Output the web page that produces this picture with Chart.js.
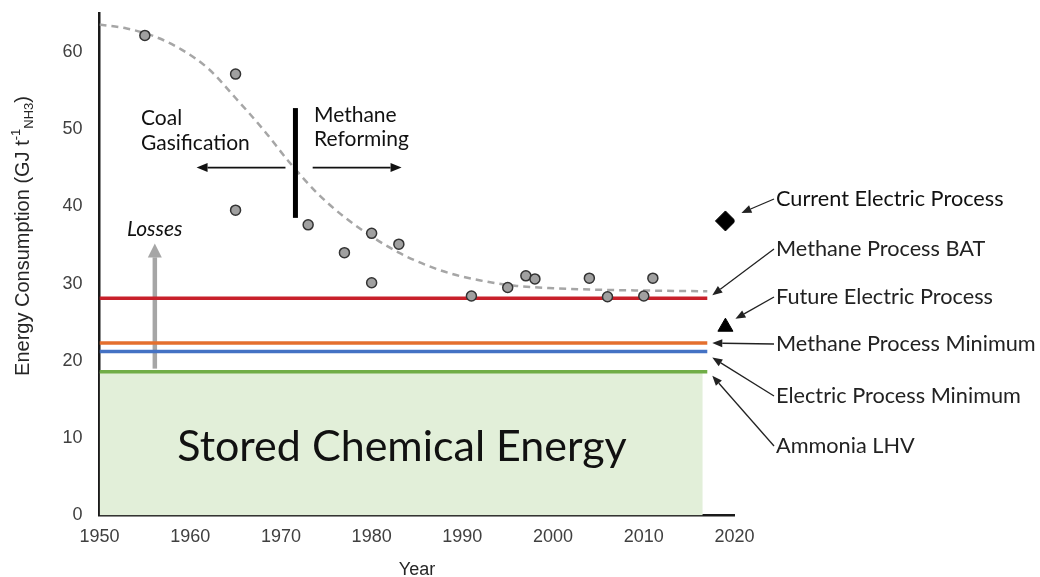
<!DOCTYPE html>
<html>
<head>
<meta charset="utf-8">
<script src="https://cdn.jsdelivr.net/npm/chart.js@4.4.1/dist/chart.umd.min.js"></script>
<style>
  html, body { margin: 0; padding: 0; background: #fff; }
  #wrap { width: 1040px; height: 577px; }
</style>
</head>
<body>
<div id="wrap"><canvas id="chart" width="1040" height="577"></canvas></div>
<script>
// plant data (year, GJ per t NH3)
const years = [1955, 1965, 1965, 1973, 1977, 1980, 1980, 1983, 1991, 1995, 1997, 1998, 2004, 2006, 2010, 2011];
const energy = [62.1, 57.1, 39.5, 37.6, 34.0, 36.5, 30.1, 35.1, 28.4, 29.5, 31.0, 30.6, 30.7, 28.3, 28.4, 30.7];

// dashed trend
const trendYears = [1950, 1953, 1956, 1959, 1962, 1965, 1968, 1971, 1974, 1977, 1980, 1983, 1986, 1989, 1992, 1996, 2000, 2005, 2010, 2017];
const trendValues = [63.5, 63.0, 62.0, 60.3, 57.8, 54.0, 50.0, 45.6, 41.7, 38.6, 36.1, 34.0, 32.4, 31.2, 30.4, 29.7, 29.4, 29.2, 29.1, 29.0];

// reference levels
const levelYears = [1950, 2017];
const fillYears = [1950, 2016.5];
const methaneBAT = 28.1;
const methaneMin = 22.3;
const electricMin = 21.2;
const ammoniaLHV = 18.6;

// single markers
const currentElectric = { x: 2019, y: 38.1 };
const futureElectric = { x: 2019, y: 24.4 };

const xTicks = [1950, 1960, 1970, 1980, 1990, 2000, 2010, 2020];
const yTicks = [0, 10, 20, 30, 40, 50, 60];

const rightLabels = ['Current Electric Process', 'Methane Process BAT', 'Future Electric Process',
    'Methane Process Minimum', 'Electric Process Minimum', 'Ammonia LHV'];

const level = (v, xs) => xs.map(x => ({ x: x, y: v }));

function arrow(ctx, x1, y1, x2, y2, len, half, color, lw) {
    const a = Math.atan2(y2 - y1, x2 - x1);
    const bx = x2 - Math.cos(a) * len, by = y2 - Math.sin(a) * len;
    ctx.strokeStyle = color;
    ctx.fillStyle = color;
    ctx.lineWidth = lw;
    ctx.beginPath();
    ctx.moveTo(x1, y1);
    ctx.lineTo(bx, by);
    ctx.stroke();
    ctx.beginPath();
    ctx.moveTo(x2, y2);
    ctx.lineTo(bx - Math.sin(a) * half, by + Math.cos(a) * half);
    ctx.lineTo(bx + Math.sin(a) * half, by - Math.cos(a) * half);
    ctx.closePath();
    ctx.fill();
}

const notes = {
    id: 'notes',
    beforeDatasetsDraw(chart) {
        const ctx = chart.ctx, xs = chart.scales.x, ys = chart.scales.y;
        ctx.save();
        // losses arrow sits under the level lines
        arrow(ctx, xs.getPixelForValue(1956.1), ys.getPixelForValue(19.0),
            xs.getPixelForValue(1956.1), ys.getPixelForValue(35.2), 14, 7, '#a6a6a6', 4.5);
        ctx.restore();
    },
    afterDatasetsDraw(chart) {
        const ctx = chart.ctx, xs = chart.scales.x, ys = chart.scales.y;
        const area = chart.chartArea;
        ctx.save();

        ctx.fillStyle = '#111';
        ctx.textBaseline = 'middle';
        ctx.textAlign = 'center';
        ctx.font = '43px Lato';
        ctx.fillText('Stored Chemical Energy', 402, 447);

        ctx.textAlign = 'left';
        ctx.font = '21px Lato';
        ctx.fillText('Coal', 141, 118);
        ctx.fillText('Gasification', 141, 143);
        ctx.fillText('Methane', 314, 115);
        ctx.fillText('Reforming', 314, 139);
        ctx.font = 'italic 21px Lato';
        ctx.fillText('Losses', 127, 229);

        // era divider and arrows
        ctx.strokeStyle = '#000';
        ctx.lineWidth = 5;
        ctx.beginPath();
        ctx.moveTo(xs.getPixelForValue(1971.6), ys.getPixelForValue(52.7));
        ctx.lineTo(xs.getPixelForValue(1971.6), ys.getPixelForValue(38.5));
        ctx.stroke();
        const ay = ys.getPixelForValue(45.0);
        arrow(ctx, xs.getPixelForValue(1970.5), ay, xs.getPixelForValue(1960.7), ay, 11, 4.5, '#111', 1.6);
        arrow(ctx, xs.getPixelForValue(1973.5), ay, xs.getPixelForValue(1983.3), ay, 11, 4.5, '#111', 1.6);

        // right side labels with leader arrows
        const labelX = 776;
        const labelY = [199, 249, 297, 344, 396, 446];
        const endX = xs.getPixelForValue(levelYears[1]) + 5;
        const dx = xs.getPixelForValue(currentElectric.x), dy = ys.getPixelForValue(currentElectric.y);
        const tx = xs.getPixelForValue(futureElectric.x), ty = ys.getPixelForValue(futureElectric.y);
        const tips = [
            [dx + 16, dy - 8],
            [endX, ys.getPixelForValue(28.5)],
            [tx + 10, ty - 8],
            [endX, ys.getPixelForValue(methaneMin)],
            [endX, ys.getPixelForValue(electricMin) + 6],
            [endX, ys.getPixelForValue(ammoniaLHV) + 4]
        ];
        ctx.font = '21.7px Lato';
        ctx.fillStyle = '#111';
        rightLabels.forEach((t, i) => {
            ctx.fillText(t, labelX, labelY[i]);
            arrow(ctx, labelX - 2, labelY[i], tips[i][0], tips[i][1], 10, 4, '#222', 1.3);
        });

        // axis titles
        ctx.fillStyle = '#262626';
        ctx.textAlign = 'center';
        ctx.textBaseline = 'alphabetic';
        ctx.font = '18px "Liberation Sans"';
        ctx.fillText('Year', (area.left + area.right) / 2, 575);

        ctx.translate(22, 236);
        ctx.rotate(-Math.PI / 2);
        ctx.textAlign = 'left';
        const big = '20px "Liberation Sans"', small = '13px "Liberation Sans"';
        const main = 'Energy Consumption (GJ t';
        ctx.font = big;
        const w1 = ctx.measureText(main).width, wEnd = ctx.measureText(')').width;
        ctx.font = small;
        const wSup = ctx.measureText('-1').width, wSub = ctx.measureText('NH3').width;
        let x = -(w1 + wSup + wSub + wEnd) / 2;
        ctx.font = big;
        ctx.fillText(main, x, 7);
        x += w1;
        ctx.font = small;
        ctx.fillText('-1', x, -2);
        x += wSup;
        ctx.fillText('NH3', x, 11);
        x += wSub;
        ctx.font = big;
        ctx.fillText(')', x, 7);

        ctx.restore();
    }
};

new Chart(document.getElementById('chart'), {
    type: 'scatter',
    data: {
        datasets: [
            {
                data: years.map((y, i) => ({ x: y, y: energy[i] })),
                backgroundColor: '#a0a0a0',
                borderColor: '#333',
                borderWidth: 1.5,
                pointRadius: 5,
                order: 0
            },
            {
                data: [currentElectric],
                pointStyle: 'rectRot',
                pointRadius: 10,
                backgroundColor: '#000',
                borderColor: '#000',
                order: 0
            },
            {
                data: [futureElectric],
                pointStyle: 'triangle',
                pointRadius: 8.7,
                backgroundColor: '#000',
                borderColor: '#000',
                order: 0
            },
            {
                data: trendYears.map((y, i) => ({ x: y, y: trendValues[i] })),
                showLine: true,
                borderColor: '#a6a6a6',
                borderWidth: 2.5,
                borderDash: [7, 5],
                cubicInterpolationMode: 'monotone',
                pointRadius: 0,
                order: 1
            },
            {
                data: level(methaneBAT, levelYears),
                showLine: true, borderColor: '#c8202a', borderWidth: 3.5, pointRadius: 0, order: 2
            },
            {
                data: level(methaneMin, levelYears),
                showLine: true, borderColor: '#e46f2e', borderWidth: 3.5, pointRadius: 0, order: 2
            },
            {
                data: level(electricMin, levelYears),
                showLine: true, borderColor: '#4472c4', borderWidth: 3.5, pointRadius: 0, order: 2
            },
            {
                data: level(ammoniaLHV, levelYears),
                showLine: true, borderColor: '#70ad47', borderWidth: 3.5, pointRadius: 0, order: 2
            },
            {
                data: level(ammoniaLHV, fillYears),
                showLine: true, fill: 'origin', backgroundColor: '#e2efd9',
                borderWidth: 0, pointRadius: 0, order: 3
            }
        ]
    },
    options: {
        responsive: false,
        animation: false,
        layout: { padding: { left: 0, right: 305.5, top: 13, bottom: 0 } },
        plugins: { legend: { display: false }, tooltip: { enabled: false } },
        scales: {
            x: {
                type: 'linear',
                min: 1950,
                max: 2020,
                afterFit: s => { s.height = 61.5; },
                afterBuildTicks: s => { s.ticks = xTicks.map(v => ({ value: v })); },
                grid: { display: false, drawTicks: false },
                border: { display: true, color: '#1a1a1a', width: 2.5 },
                ticks: {
                    padding: 11,
                    color: '#404040',
                    font: { family: '"Liberation Sans"', size: 18 },
                    callback: v => String(v)
                }
            },
            y: {
                min: 0,
                max: 65,
                afterFit: s => { s.width = 99.5; s.paddingTop = 0; s.paddingBottom = 0; },
                afterBuildTicks: s => { s.ticks = yTicks.map(v => ({ value: v })); },
                grid: { display: false, drawTicks: false },
                border: { display: true, color: '#1a1a1a', width: 2.5 },
                ticks: {
                    padding: 17,
                    color: '#404040',
                    font: { family: '"Liberation Sans"', size: 18 },
                    callback: v => String(v)
                }
            }
        }
    },
    plugins: [notes]
});
</script>
</body>
</html>
